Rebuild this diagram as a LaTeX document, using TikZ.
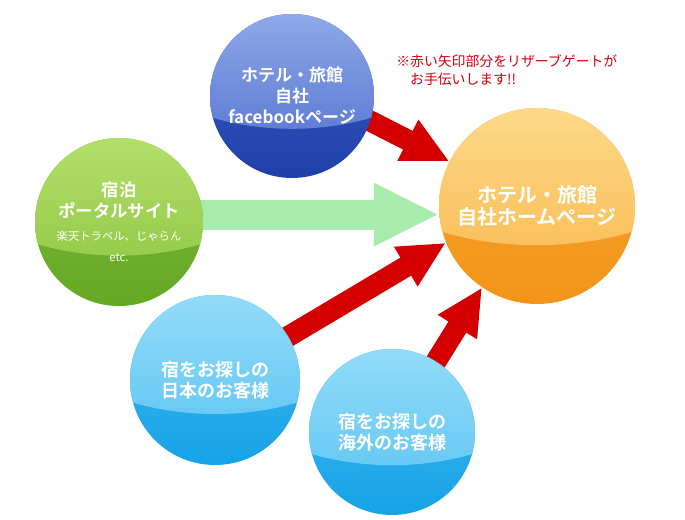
\documentclass[tikz,border=0pt]{standalone}
\usepackage{fontspec}
\setmainfont{Noto Sans CJK JP}[BoldFont={Noto Sans CJK JP Bold}]
\usetikzlibrary{arrows.meta,calc}

\pgfdeclarelayer{back}
\pgfdeclarelayer{mid}
\pgfsetlayers{back,mid,main}

% ==== COLOURS ====
\definecolor{arrowred}{HTML}{D40000}
\definecolor{arrowgreen}{HTML}{A8ECAC}
\definecolor{notered}{HTML}{D0000F}

\definecolor{fbTop}{HTML}{8EA8E8}   \definecolor{fbMid}{HTML}{4C6CCE}
\definecolor{fbLow}{HTML}{3A5CC4}   \definecolor{fbBot}{HTML}{1E40A8}
\definecolor{grTop}{HTML}{B3DE6A}   \definecolor{grMid}{HTML}{8AC43E}
\definecolor{grLow}{HTML}{7ABB34}   \definecolor{grBot}{HTML}{65A824}
\definecolor{orTop}{HTML}{FDD98A}   \definecolor{orMid}{HTML}{F9B648}
\definecolor{orLow}{HTML}{F6A530}   \definecolor{orBot}{HTML}{F39418}
\definecolor{skTop}{HTML}{92DBF8}   \definecolor{skMid}{HTML}{58C2F2}
\definecolor{skLow}{HTML}{44B8F0}   \definecolor{skBot}{HTML}{16A3E8}

\newcommand{\smallfont}{\normalfont\fontsize{8.5pt}{15.75pt}\selectfont}

% ball: node name, radius (px), top, mid, low, bottom colours
\newcommand{\shadeball}[6]{%
  \begin{scope}
    \clip (#1.center) circle (#2);
    \shade[top color=#5, middle color=#5, bottom color=#6] (#1.center) circle (#2);
    \clip ($(#1.center)+(0,-0.69*#2)$) ellipse ({2*#2} and {1.09*#2});
    \shade[top color=#3, bottom color=#4] (#1.center) circle (#2);
  \end{scope}}

\tikzset{
  ball/.style={circle, inner sep=0pt, minimum size=#1, align=center, text=white},
  redarrow/.style={draw=arrowred, line width=15.75pt, -{Triangle[length=35pt,width=32pt]}},
  greenarrow/.style={draw=arrowgreen, line width=22.5pt, -{Triangle[length=49pt,width=44pt]}}
}

\begin{document}
\begin{tikzpicture}[x=0.75pt, y=-0.75pt]
  % ==== FRAME (685 x 520 px) ====
  \useasboundingbox (0,0) rectangle (685,520);

  % ==== BALLS ====
  \node[ball=123pt, font=\bfseries\fontsize{12.75pt}{15.75pt}\selectfont] (fb) at (292,96)
    {ホテル・旅館\\自社\\facebookページ};
  \node[ball=126pt, font=\bfseries\fontsize{13pt}{15.75pt}\selectfont] (portal) at (119,222)
    {宿泊\\ポータルサイト\\[1.5pt]\smallfont 楽天トラベル、じゃらん\\\smallfont etc.};
  \node[ball=147pt, font=\bfseries\fontsize{15pt}{16.5pt}\selectfont] (home) at (537,206)
    {ホテル・旅館\\自社ホームページ};
  \node[ball=127.5pt, font=\bfseries\fontsize{13.5pt}{15.75pt}\selectfont] (japan) at (215,380)
    {宿をお探しの\\日本のお客様};
  \node[ball=124.5pt, font=\bfseries\fontsize{13.5pt}{15.75pt}\selectfont] (overseas) at (392,432)
    {宿をお探しの\\海外のお客様};

  \begin{pgfonlayer}{mid}
    \shadeball{fb}{82}{fbTop}{fbMid}{fbLow}{fbBot}
    \shadeball{portal}{84}{grTop}{grMid}{grLow}{grBot}
    \shadeball{home}{98}{orTop}{orMid}{orLow}{orBot}
    \shadeball{japan}{85}{skTop}{skMid}{skLow}{skBot}
    \shadeball{overseas}{83}{skTop}{skMid}{skLow}{skBot}
  \end{pgfonlayer}

  % ==== ARROWS ====
  \coordinate (fbTail) at ($(home.center)!2.5!(home.153)$);
  \begin{pgfonlayer}{back}
    \draw[greenarrow] (portal.center |- home.185) -- (home.185);
    \draw[redarrow] (fbTail) -- (home.153);
    \draw[redarrow] (japan.center) -- (home.202);
    \draw[redarrow] (overseas.center) -- (home.236);
  \end{pgfonlayer}

  % ==== NOTE ====
  \node[anchor=north west, inner sep=0pt, align=left, text=notered,
        font=\fontsize{10.4pt}{13.5pt}\selectfont] (note) at (396,54)
    {※赤い矢印部分をリザーブゲートが\\\phantom{※}お手伝いします!!};
\end{tikzpicture}
\end{document}
